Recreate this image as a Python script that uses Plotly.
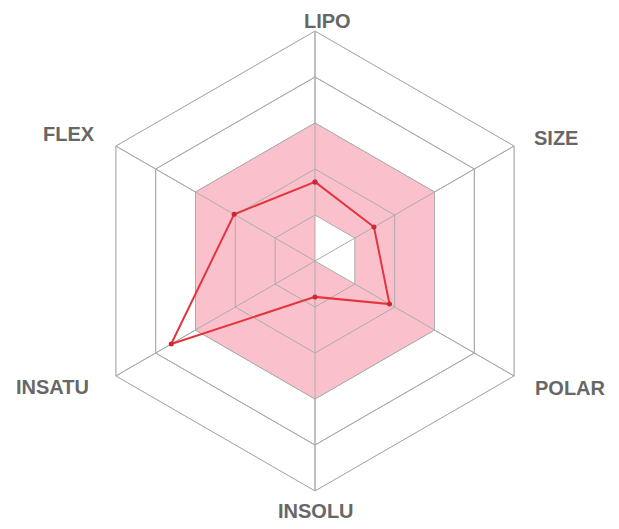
import plotly.graph_objects as go

categories = ["LIPO", "SIZE", "POLAR", "INSOLU", "INSATU", "FLEX"]
values = [1.72, 1.48, 1.87, 0.78, 3.61, 2.03]
optimal_upper = [3, 3, 3, 3, 3, 3]
optimal_lower = [1, 1, 1, 0, 0, 0]
grid_levels = [1, 2, 3, 4, 5]

# label placement (pixels from top-left of the 619x529 picture)
label_pos = {
    "LIPO": (327, 20), "SIZE": (556, 137), "POLAR": (570, 387),
    "INSOLU": (316, 510), "INSATU": (52, 386), "FLEX": (69, 133),
}

W, H = 619, 529
OFF = 8  # page body margin
GRID = "rgb(172,172,172)"

def closed(lst):
    return list(lst) + [lst[0]]

fig = go.Figure()
fig.add_trace(go.Scatterpolar(
    r=closed(optimal_upper), theta=closed(categories), mode="lines",
    fill="toself", fillcolor="rgb(250,193,204)", line=dict(color="rgba(0,0,0,0)", width=0),
    hoverinfo="skip"))
fig.add_trace(go.Scatterpolar(
    r=closed(optimal_lower), theta=closed(categories), mode="lines",
    fill="toself", fillcolor="white", line=dict(color="rgba(0,0,0,0)", width=0),
    hoverinfo="skip"))
for lvl in grid_levels:
    fig.add_trace(go.Scatterpolar(
        r=closed([lvl] * len(categories)), theta=closed(categories), mode="lines",
        line=dict(color=GRID, width=1), hoverinfo="skip"))
for c in categories:
    fig.add_trace(go.Scatterpolar(
        r=[0, grid_levels[-1]], theta=[c, c], mode="lines",
        line=dict(color=GRID, width=1), hoverinfo="skip"))
fig.add_trace(go.Scatterpolar(
    r=closed(values), theta=closed(categories), mode="lines+markers",
    line=dict(color="rgb(228,52,62)", width=2),
    marker=dict(color="rgb(205,40,50)", size=5)))

annotations = []
for c in categories:
    px, py = label_pos[c]
    annotations.append(dict(
        text=c, xref="paper", yref="paper",
        x=(px - OFF) / W, y=1 - (py + 1 - OFF) / H,
        xanchor="center", yanchor="middle", showarrow=False,
        font=dict(family="Liberation Sans, Arial", size=20, color="#676767", weight="bold")))

fig.update_layout(
    width=W, height=H,
    margin=dict(l=0, r=0, t=0, b=0),
    paper_bgcolor="white", plot_bgcolor="white",
    showlegend=False,
    annotations=annotations,
    polar=dict(
        domain=dict(x=[77/W, 537/W], y=[46/H, 506/H]),
        bgcolor="white",
        gridshape="linear",
        radialaxis=dict(range=[0, 5], dtick=1, showticklabels=False, ticks="",
                        showline=False, gridcolor=GRID, gridwidth=1),
        angularaxis=dict(direction="clockwise", rotation=90, showline=True,
                         linecolor=GRID, linewidth=1,
                         gridcolor=GRID, gridwidth=1,
                         ticks="", showticklabels=False),
    ),
)
fig.write_html("out.html")
